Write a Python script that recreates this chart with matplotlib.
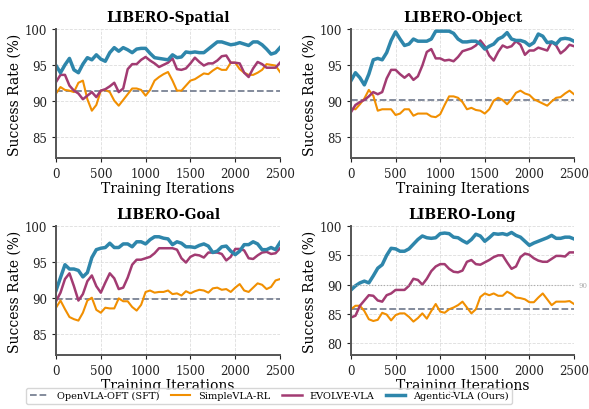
import numpy as np
import matplotlib
matplotlib.use("Agg")
import matplotlib.pyplot as plt

plt.rcParams['font.family'] = 'DejaVu Serif'

iters = np.arange(0, 2501, 50)

# ---- LIBERO-Spatial
sp_sft = 91.3
sp_simple = [91.0, 91.9, 91.5, 91.4, 91.2, 92.5, 92.8, 90.2, 88.6, 89.4, 91.4, 91.5, 91.2, 90.0, 89.3,
             90.1, 90.9, 91.7, 91.7, 91.5, 90.7, 91.5, 92.8, 93.3, 93.7, 94.0, 92.8, 91.4, 91.4, 92.1,
             92.8, 93.0, 93.4, 93.8, 93.7, 94.2, 94.6, 94.3, 94.3, 95.3, 95.3, 94.4, 93.9, 93.6, 93.6,
             93.9, 94.3, 95.1, 95.0, 94.9, 94.0]
sp_evolve = [92.6, 93.6, 93.6, 92.1, 91.4, 91.0, 90.2, 90.7, 91.2, 90.5, 91.4, 91.6, 92.0, 92.5, 91.2,
             91.7, 94.4, 95.1, 95.1, 95.7, 96.1, 95.6, 95.2, 94.7, 95.0, 95.3, 95.9, 94.4, 94.3, 94.5,
             95.2, 96.0, 95.4, 94.9, 95.2, 95.2, 95.6, 96.2, 96.3, 95.3, 95.3, 95.2, 93.9, 93.3, 94.5,
             95.4, 95.1, 94.6, 94.6, 94.6, 95.3]
sp_agentic = [94.9, 93.9, 95.0, 95.9, 94.3, 93.9, 95.1, 96.0, 95.7, 96.4, 95.8, 95.5, 96.7, 97.4, 96.9,
              97.4, 97.1, 96.7, 97.2, 97.3, 97.3, 96.6, 96.0, 95.9, 95.8, 95.7, 96.4, 96.0, 96.1, 96.8,
              96.7, 96.8, 96.7, 96.7, 97.2, 97.7, 98.2, 98.2, 98.0, 97.8, 97.9, 98.1, 97.9, 97.7, 98.2,
              98.2, 97.8, 97.2, 96.5, 96.7, 97.4]

# ---- LIBERO-Object
ob_sft = 90.1
ob_simple = [88.9, 88.8, 89.5, 90.3, 91.5, 90.7, 88.6, 88.8, 88.8, 88.8, 88.0, 88.2, 88.8, 88.8, 87.9,
             88.2, 88.2, 88.2, 87.8, 87.7, 88.1, 89.4, 90.6, 90.6, 90.4, 89.8, 88.8, 89.0, 88.7, 88.6,
             88.2, 88.8, 90.0, 90.4, 90.1, 89.5, 90.2, 91.1, 91.4, 91.0, 90.8, 90.2, 89.9, 89.6, 89.3,
             89.9, 90.4, 90.5, 91.0, 91.4, 90.9]
ob_evolve = [88.4, 89.4, 89.8, 90.1, 90.6, 91.2, 90.9, 91.2, 93.1, 94.3, 94.3, 93.7, 93.2, 93.7, 92.9,
             93.4, 94.9, 96.8, 97.2, 95.9, 95.9, 95.6, 95.7, 95.5, 96.1, 96.9, 97.1, 97.3, 97.7, 98.4,
             97.6, 96.3, 95.6, 96.8, 97.7, 97.4, 97.6, 98.3, 97.8, 96.4, 97.0, 97.0, 97.4, 97.2, 97.0,
             98.2, 97.7, 96.6, 97.1, 97.8, 97.6]
ob_agentic = [92.8, 93.9, 93.2, 92.2, 93.7, 95.7, 95.9, 95.7, 96.7, 98.4, 99.6, 98.6, 97.7, 97.9, 98.6,
              98.3, 98.3, 98.3, 98.6, 99.7, 99.7, 99.7, 99.7, 99.4, 98.6, 98.2, 98.2, 98.3, 98.3, 97.9,
              97.2, 97.6, 97.9, 98.6, 98.9, 99.5, 98.6, 98.4, 98.4, 98.2, 97.7, 98.1, 99.3, 99.0, 98.1,
              98.2, 97.9, 98.6, 98.7, 98.6, 98.3]

# ---- LIBERO-Goal
go_sft = 89.8
go_simple = [88.6, 89.6, 88.4, 87.3, 87.0, 86.8, 87.9, 89.6, 90.0, 88.3, 87.9, 88.6, 88.5, 88.5, 89.9,
             89.5, 89.5, 88.7, 88.2, 89.0, 90.8, 91.0, 90.7, 90.8, 90.8, 91.0, 90.5, 90.6, 90.3, 90.9,
             90.6, 90.9, 91.1, 91.0, 90.7, 91.3, 91.4, 91.1, 91.2, 90.8, 91.4, 91.9, 91.0, 90.8, 91.4,
             92.0, 91.8, 91.2, 91.5, 92.4, 92.6]
go_evolve = [89.5, 90.7, 92.6, 93.4, 91.6, 89.6, 90.5, 92.3, 93.1, 91.6, 90.7, 92.1, 93.4, 92.7, 91.2,
             91.4, 92.8, 94.6, 95.3, 95.3, 95.5, 95.7, 96.2, 96.9, 96.9, 96.9, 96.9, 96.7, 95.5, 94.9,
             95.7, 96.0, 95.9, 95.6, 96.3, 96.3, 96.3, 96.1, 95.2, 95.7, 96.8, 96.8, 96.6, 95.5, 95.4,
             95.9, 96.3, 96.4, 96.1, 96.2, 96.9]
go_agentic = [91.0, 92.8, 94.6, 94.0, 94.0, 93.8, 92.9, 93.5, 95.6, 96.7, 96.9, 97.0, 97.6, 97.0, 97.0,
              97.5, 97.5, 97.1, 97.8, 97.8, 97.5, 98.1, 98.5, 98.5, 98.3, 98.2, 97.4, 97.8, 97.6, 97.1,
              97.1, 97.0, 97.3, 97.5, 97.2, 96.3, 96.5, 97.1, 97.2, 96.5, 96.0, 96.5, 97.4, 97.4, 97.8,
              97.5, 96.7, 96.7, 97.0, 96.7, 97.7]

# ---- LIBERO-Long
lo_sft = 85.9
lo_simple = [85.8, 86.4, 86.4, 85.5, 84.1, 83.8, 84.0, 85.2, 84.9, 83.9, 84.8, 85.1, 85.1, 84.5, 83.7,
             84.3, 85.1, 84.2, 85.5, 86.7, 85.4, 85.2, 85.8, 86.1, 86.5, 87.1, 86.1, 85.1, 85.8, 87.9,
             88.5, 88.2, 88.5, 88.1, 88.1, 88.8, 88.4, 87.8, 87.7, 87.5, 87.0, 87.0, 87.8, 88.5, 87.5,
             86.5, 87.1, 87.1, 87.1, 87.2, 86.7]
lo_evolve = [84.4, 84.7, 86.4, 87.3, 88.2, 88.1, 87.3, 87.1, 88.2, 88.5, 89.1, 89.1, 89.1, 89.8, 91.0,
             90.8, 90.0, 91.0, 92.3, 93.1, 93.5, 93.5, 92.7, 92.2, 92.1, 92.4, 93.9, 94.2, 93.5, 93.4,
             93.8, 94.2, 94.7, 95.0, 95.0, 93.8, 92.7, 93.1, 94.7, 95.3, 95.1, 94.5, 94.1, 93.9, 93.9,
             94.4, 94.9, 94.9, 94.8, 95.5, 95.5]
lo_agentic = [89.1, 89.8, 90.3, 90.6, 90.3, 91.5, 92.8, 93.4, 95.0, 96.2, 96.1, 95.7, 95.7, 96.1, 96.9,
              97.7, 98.3, 98.0, 97.9, 98.0, 98.7, 98.8, 98.7, 98.1, 98.0, 97.5, 97.1, 97.7, 98.6, 98.3,
              97.4, 98.0, 98.7, 98.6, 98.7, 98.5, 98.9, 98.4, 98.1, 97.4, 96.7, 97.1, 97.4, 97.7, 98.0,
              98.4, 97.9, 97.9, 98.1, 98.1, 97.8]

titles = ['LIBERO-Spatial', 'LIBERO-Object', 'LIBERO-Goal', 'LIBERO-Long']
sft = [sp_sft, ob_sft, go_sft, lo_sft]
simple = [sp_simple, ob_simple, go_simple, lo_simple]
evolve = [sp_evolve, ob_evolve, go_evolve, lo_evolve]
agentic = [sp_agentic, ob_agentic, go_agentic, lo_agentic]
ylims = [(82, 100), (82, 100), (82, 100), (78, 100)]
yticks = [[85, 90, 95, 100]] * 3 + [[80, 85, 90, 95, 100]]

c_sft = '#7a8294'
c_simple = '#F18F01'
c_evolve = '#A23B72'
c_agentic = '#2E86AB'

fig = plt.figure(figsize=(5.89, 4.10), dpi=100)
pos = [[0.0951, 0.6122, 0.3803, 0.3146],
       [0.5959, 0.6122, 0.3786, 0.3146],
       [0.0951, 0.1317, 0.3803, 0.3146],
       [0.5959, 0.1317, 0.3786, 0.3146]]

for i in range(4):
    ax = fig.add_axes(pos[i])
    ax.axhline(sft[i], color=c_sft, linestyle='--', linewidth=1.3, label='OpenVLA-OFT (SFT)')
    ax.plot(iters, simple[i], color=c_simple, linewidth=1.5, label='SimpleVLA-RL')
    ax.plot(iters, evolve[i], color=c_evolve, linewidth=1.8, label='EVOLVE-VLA')
    ax.plot(iters, agentic[i], color=c_agentic, linewidth=2.5, label='Agentic-VLA (Ours)')
    ax.set_xlim(0, 2500)
    ax.set_ylim(*ylims[i])
    ax.set_xticks([0, 500, 1000, 1500, 2000, 2500])
    ax.set_yticks(yticks[i])
    ax.set_title(titles[i], fontsize=10, fontweight='bold', pad=6)
    ax.set_xlabel('Training Iterations', fontsize=10, labelpad=1)
    ax.set_ylabel('Success Rate (%)', fontsize=10, labelpad=2)
    ax.tick_params(labelsize=8.5, length=3, colors='#222222')
    ax.grid(True, linestyle='--', color='#dddddd', linewidth=0.6)
    ax.spines['top'].set_visible(False)
    ax.spines['right'].set_visible(False)
    for s in ['left', 'bottom']:
        ax.spines[s].set_color('#555555')
        ax.spines[s].set_linewidth(1.4)
    if i == 3:
        ax.axhline(90, color='#aaaaaa', linestyle=':', linewidth=0.8)
        ax.text(1.02, 90, '90', transform=ax.get_yaxis_transform(), fontsize=5,
                color='#aaaaaa', va='center', ha='left')
    if i == 0:
        handles, labels = ax.get_legend_handles_labels()

fig.legend(handles, labels, loc='center', bbox_to_anchor=(0.457, 0.032), ncol=4,
           fontsize=7, frameon=True, edgecolor='#cccccc', handlelength=2.0,
           handletextpad=0.8, columnspacing=1.2, borderpad=0.35, fancybox=True)

fig.savefig('out.png', dpi=100)
